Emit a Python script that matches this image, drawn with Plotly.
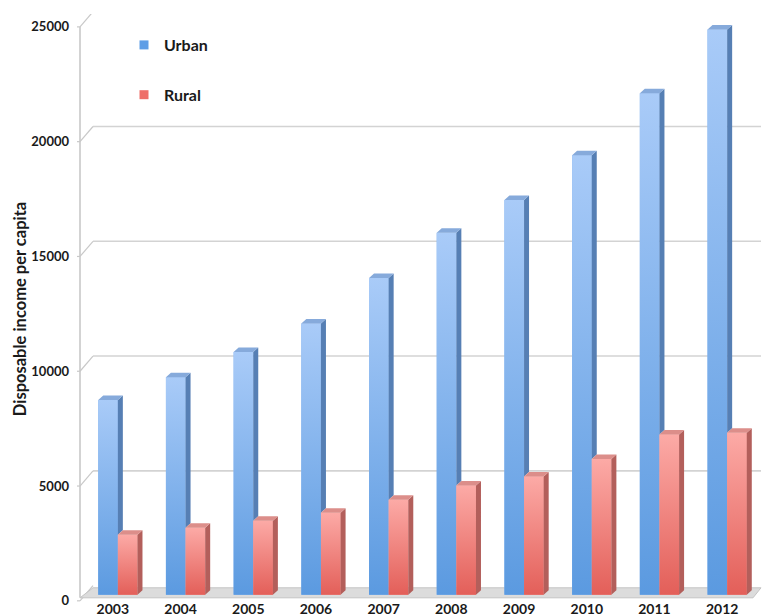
import plotly.graph_objects as go

# ---- data ----
years = ["2003", "2004", "2005", "2006", "2007", "2008", "2009", "2010", "2011", "2012"]
urban = [8490, 9480, 10580, 11820, 13800, 15770, 17200, 19150, 21850, 24620]
rural = [2620, 2920, 3230, 3570, 4140, 4760, 5150, 5920, 6980, 7060]
y_ticks = [0, 5000, 10000, 15000, 20000, 25000]

# ---- geometry / style constants ----
W, H = 764, 616
ML, MR, MT, MB = 84, 3, 14, 12
Y_RANGE = [-400, 25300]
PW = W - ML - MR
PH = H - MT - MB
UPX = (Y_RANGE[1] - Y_RANGE[0]) / PH      # data units per pixel (y)
XPX = 10.0 / PW                            # category units per pixel (x)
BW = 0.29                                  # bar width (category units)
DX = 5 * XPX                               # 3-D depth offset, x
DY = 4.5 * UPX                             # 3-D depth offset, y

FONT = "Lato, 'Open Sans', Arial, sans-serif"
U_FRONT, U_SIDE, U_TOP = "#80b2ee", "#567fb4", "#86aadb"
R_FRONT, R_SIDE, R_TOP = "#f28a84", "#b35f5b", "#dc8e8a"
U_GRAD = [[0, "#5b9ae0"], [1, "#a9cbf8"]]
R_GRAD = [[0, "#e35f59"], [1, "#fcaaa6"]]

xs = list(range(len(years)))

fig = go.Figure()
fig.add_trace(go.Bar(x=xs, y=urban, width=BW, offset=-BW, marker=dict(color=U_FRONT, line=dict(width=0)),
                     name="Urban", showlegend=False, hoverinfo="x+y"))
fig.add_trace(go.Bar(x=xs, y=rural, width=BW, offset=0, marker=dict(color=R_FRONT, line=dict(width=0)),
                     name="Rural", showlegend=False, hoverinfo="x+y"))


def poly_trace(px, py, color, grad=None):
    kw = {}
    if grad is not None:
        kw["fillgradient"] = dict(type="vertical", colorscale=grad)
    return go.Scatter(x=px, y=py, mode="lines", fill="toself", fillcolor=color,
                      line=dict(width=0, color=color), hoverinfo="skip", showlegend=False, **kw)


# shaded front faces (vertical gradient, as in the original 3-D style)
for i, (u, r) in enumerate(zip(urban, rural)):
    fig.add_trace(poly_trace([i - BW, i, i, i - BW, i - BW], [0, 0, u, u, 0], U_FRONT, U_GRAD))
    fig.add_trace(poly_trace([i, i + BW, i + BW, i, i], [0, 0, r, r, 0], R_FRONT, R_GRAD))

# urban: visible side strip (above rural bar) and top face
sx, sy, tx, ty = [], [], [], []
for i, (u, r) in enumerate(zip(urban, rural)):
    sx += [i, i + DX, i + DX, i, i, None]
    sy += [r, r + DY, u + DY, u, r, None]
    tx += [i - BW, i - BW + DX, i + DX, i, i - BW, None]
    ty += [u, u + DY, u + DY, u, u, None]
fig.add_trace(poly_trace(sx, sy, U_SIDE))
fig.add_trace(poly_trace(tx, ty, U_TOP))

# rural: side face and top face
sx, sy, tx, ty = [], [], [], []
for i, r in enumerate(rural):
    xr = i + BW
    sx += [xr, xr + DX, xr + DX, xr, xr, None]
    sy += [0, DY, r + DY, r, 0, None]
    tx += [i, i + DX, xr + DX, xr, i, None]
    ty += [r, r + DY, r + DY, r, r, None]
fig.add_trace(poly_trace(sx, sy, R_SIDE))
fig.add_trace(poly_trace(tx, ty, R_TOP))

# legend entries
fig.add_trace(go.Scatter(x=[None], y=[None], mode="markers", name="Urban",
                         marker=dict(symbol="square", size=9, color="#5f9ee6"), legendgroup="u"))
fig.add_trace(go.Scatter(x=[None], y=[None], mode="markers", name="Rural",
                         marker=dict(symbol="square", size=9, color="#ee6f69"), legendgroup="r"))

# ---- back wall gridlines, floor, axis line (decoration) ----
def px_x(p):
    return (p - ML) / PW

shapes = []
axis_x = px_x(80)
wall_x = px_x(93)
lab_off = 6 * UPX
wall_off = 400
for t in y_ticks:
    if t > 0:
        shapes.append(dict(type="line", xref="paper", yref="y", x0=wall_x, x1=1.0,
                           y0=t + wall_off, y1=t + wall_off, layer="below",
                           line=dict(color="#d3d3d3", width=1.6)))
    shapes.append(dict(type="line", xref="paper", yref="y", x0=axis_x - 3 / PW, x1=axis_x,
                       y0=t - lab_off, y1=t - lab_off, layer="below",
                       line=dict(color="#c8c8c8", width=1.2)))
    shapes.append(dict(type="line", xref="paper", yref="y", x0=axis_x, x1=wall_x,
                       y0=t - lab_off, y1=t + wall_off, layer="below",
                       line=dict(color="#c8c8c8", width=1.2)))
floor_back = 7 * UPX
floor_front = -3 * UPX
fr_x = px_x(753)
shapes.append(dict(type="path", xref="paper", yref="y", layer="below",
                   path=f"M {axis_x},{floor_front} L {wall_x},{floor_back} L 1.0,{floor_back} "
                        f"L {fr_x},{floor_front} Z",
                   fillcolor="#dcdcdc", line=dict(color="#c4c4c4", width=1)))
shapes.append(dict(type="line", xref="paper", yref="y", x0=axis_x, x1=axis_x,
                   y0=floor_front, y1=y_ticks[-1] - lab_off, layer="below",
                   line=dict(color="#c8c8c8", width=1.6)))

fig.update_layout(
    width=W, height=H,
    margin=dict(l=ML, r=MR, t=MT, b=MB, autoexpand=False),
    paper_bgcolor="white", plot_bgcolor="white",
    barmode="overlay",
    shapes=shapes,
    font=dict(family=FONT, color="#1a1a1a"),
    showlegend=True,
    legend=dict(x=px_x(124), y=1 - (28 - MT) / PH, xanchor="left", yanchor="top",
                bgcolor="rgba(0,0,0,0)", tracegroupgap=26, itemwidth=30,
                font=dict(size=16, family=FONT, weight="bold", color="#1a1a1a")),
    xaxis=dict(range=[-0.5, 9.5], tickvals=xs, ticktext=years, showgrid=False, zeroline=False,
               showline=False, ticks="", ticklabelshift=-5, ticklabelstandoff=-5,
               tickfont=dict(size=14, family=FONT, weight="bold", color="#1a1a1a")),
    yaxis=dict(range=Y_RANGE, tickvals=y_ticks, ticktext=[str(v) for v in y_ticks],
               showgrid=False, zeroline=False, showline=False, ticks="",
               ticklabelshift=6, ticklabelstandoff=14,
               tickfont=dict(size=13, family=FONT, weight="bold", color="#1a1a1a")),
)
fig.update_yaxes(title=dict(text="Disposable income per capita", standoff=0,
                            font=dict(size=16.5, family=FONT, weight="bold", color="#1a1a1a")))

fig.write_html("out.html")
